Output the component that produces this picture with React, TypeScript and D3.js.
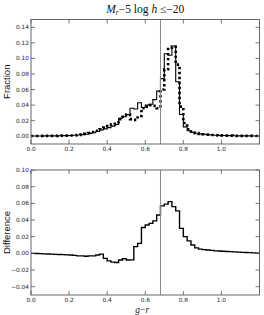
import React from 'react'
import * as d3 from 'd3'

// histogram bins are 0.02 wide from g-r = 0.0 to 1.2
const BIN_WIDTH = 0.02
const X_TICKS = [0.0, 0.2, 0.4, 0.6, 0.8, 1.0]
const TOP_Y_TICKS = [0.0, 0.02, 0.04, 0.06, 0.08, 0.1, 0.12, 0.14]
const BOTTOM_Y_TICKS = [-0.04, -0.02, 0.0, 0.02, 0.04, 0.06, 0.08, 0.1]
const CUT_COLOUR = 0.68

// solid histogram (top panel)
const modelFraction = [
  0.0003, 0.0003, 0.0003, 0.0004, 0.0004, 0.0005, 0.0005, 0.0006, 0.0007, 0.0008,
  0.001, 0.0012, 0.0015, 0.002, 0.0025, 0.0035, 0.0045, 0.006, 0.008, 0.0095,
  0.011, 0.013, 0.015, 0.023, 0.025, 0.028, 0.036, 0.035, 0.043, 0.037,
  0.04, 0.041, 0.047, 0.058, 0.074, 0.106, 0.104, 0.116, 0.07, 0.028,
  0.012, 0.007, 0.005, 0.0038, 0.003, 0.0025, 0.002, 0.0016, 0.0013, 0.0011,
  0.0009, 0.0008, 0.0007, 0.0006, 0.0005, 0.0005, 0.0004, 0.0004, 0.0003, 0.0003,
]

// dotted histogram (top panel)
const dataFraction = [
  0.0003, 0.0003, 0.0003, 0.0004, 0.0004, 0.0005, 0.0005, 0.0006, 0.0007, 0.0008,
  0.001, 0.0012, 0.0016, 0.0022, 0.003, 0.004, 0.0055, 0.007, 0.009, 0.011,
  0.013, 0.015, 0.018, 0.022, 0.025, 0.028, 0.022, 0.021, 0.026, 0.036,
  0.038, 0.04, 0.039, 0.036, 0.06, 0.086, 0.112, 0.115, 0.092, 0.038,
  0.017, 0.009, 0.006, 0.004, 0.003, 0.0025, 0.002, 0.0016, 0.0013, 0.0011,
  0.0009, 0.0008, 0.0007, 0.0006, 0.0005, 0.0005, 0.0004, 0.0004, 0.0003, 0.0003,
]

// bottom panel
const difference = [
  0.0, -0.0002, -0.0004, -0.0006, -0.0008, -0.001, -0.0012, -0.0014, -0.0016, -0.0018,
  -0.002, -0.0025, -0.003, -0.003, -0.0035, -0.003, -0.003, -0.002, -0.001, -0.006,
  -0.009, -0.0105, -0.011, -0.008, -0.0065, -0.008, -0.0078, 0.008, 0.012, 0.031,
  0.034, 0.036, 0.039, 0.046, 0.057, 0.059, 0.062, 0.056, 0.051, 0.03,
  0.02, 0.015, 0.01, 0.0065, 0.005, 0.0045, 0.004, 0.0035, 0.003, 0.0028,
  0.0025, 0.0022, 0.002, 0.0018, 0.0015, 0.0012, 0.001, 0.0008, 0.0005, 0.0002,
]

const WIDTH = 264
const HEIGHT = 315
const LEFT = 31
const RIGHT = 259.5
const TOP_PANEL = { top: 19.5, bottom: 144 }
const BOTTOM_PANEL = { top: 170, bottom: 295 }

const TICK_FONT = 'DejaVu Sans, sans-serif'
const LABEL_FONT = 'Liberation Sans, Arial, sans-serif'
const MATH_FONT = 'Liberation Serif, Times New Roman, serif'

const fmt = (digits: number) => (v: number) =>
  (v < 0 ? '\u2212' : '') + Math.abs(v).toFixed(digits)

function stepPoints(values: number[]): [number, number][] {
  const pts: [number, number][] = values.map((v, i) => [i * BIN_WIDTH, v])
  pts.push([values.length * BIN_WIDTH, values[values.length - 1]])
  return pts
}

function Panel({ yDomain, panel, yTicks, ylabel, children }) {
  const x = d3.scaleLinear().domain([0, 1.2]).range([LEFT, RIGHT])
  const y = d3.scaleLinear().domain(yDomain).range([panel.bottom, panel.top])
  const tick = 4
  const yf = fmt(2)
  const xf = fmt(1)
  return (
    <g>
      {children(x, y)}
      <line x1={x(CUT_COLOUR)} x2={x(CUT_COLOUR)} y1={panel.top} y2={panel.bottom}
        stroke="#888" strokeWidth={1} />
      <rect x={LEFT} y={panel.top} width={RIGHT - LEFT} height={panel.bottom - panel.top}
        fill="none" stroke="#555" strokeWidth={0.9} />
      {X_TICKS.map((t) => (
        <g key={'x' + t}>
          <line x1={x(t)} x2={x(t)} y1={panel.bottom} y2={panel.bottom - tick} stroke="#555" strokeWidth={0.8} />
          <line x1={x(t)} x2={x(t)} y1={panel.top} y2={panel.top + tick} stroke="#555" strokeWidth={0.8} />
          <text x={x(t)} y={panel.bottom + 6.8} textAnchor="middle" fontFamily={TICK_FONT}
            fontSize={5.8} fill="#222">{xf(t)}</text>
        </g>
      ))}
      {yTicks.map((t) => (
        <g key={'y' + t}>
          <line x1={LEFT} x2={LEFT + tick} y1={y(t)} y2={y(t)} stroke="#555" strokeWidth={0.8} />
          <line x1={RIGHT} x2={RIGHT - tick} y1={y(t)} y2={y(t)} stroke="#555" strokeWidth={0.8} />
          <text x={LEFT - 2} y={y(t) + 2} textAnchor="end" fontFamily={TICK_FONT}
            fontSize={5.8} fill="#222">{yf(t)}</text>
        </g>
      ))}
      <text transform={`translate(10,${(panel.top + panel.bottom) / 2}) rotate(-90)`}
        textAnchor="middle" fontFamily={LABEL_FONT} fontSize={9.5} fill="#111">{ylabel}</text>
    </g>
  )
}

export default function App() {
  const line = (x, y) => d3.line<[number, number]>()
    .x((d) => x(d[0]))
    .y((d) => y(d[1]))
    .curve(d3.curveStepAfter)

  return (
    <svg width={WIDTH} height={HEIGHT} style={{ position: 'absolute', left: 0, top: 0, background: '#fff' }}>
      <text x={(LEFT + RIGHT) / 2} y={13} textAnchor="middle" fontFamily={MATH_FONT} fontSize={11.5} fill="#111">
        <tspan fontStyle="italic">M</tspan>
        <tspan fontStyle="italic" fontSize={7.5} dy={2}>r</tspan>
        <tspan dy={-2}>{'\u22125 log '}</tspan>
        <tspan fontStyle="italic">h</tspan>
        <tspan>{' \u2264\u221220'}</tspan>
      </text>

      <Panel yDomain={[-0.01, 0.15]} panel={TOP_PANEL} yTicks={TOP_Y_TICKS} ylabel="Fraction">
        {(x, y) => (
          <g>
            <path d={line(x, y)(stepPoints(modelFraction))} fill="none" stroke="#000" strokeWidth={1.1} />
            <path d={line(x, y)(stepPoints(dataFraction))} fill="none" stroke="#000" strokeWidth={2.6}
              strokeDasharray="2.3,2.7" />
          </g>
        )}
      </Panel>

      <Panel yDomain={[-0.05, 0.1]} panel={BOTTOM_PANEL} yTicks={BOTTOM_Y_TICKS} ylabel="Difference">
        {(x, y) => (
          <path d={line(x, y)(stepPoints(difference))} fill="none" stroke="#000" strokeWidth={1.4} />
        )}
      </Panel>

      <text x={(LEFT + RIGHT) / 2 - 3} y={312.5} textAnchor="middle" fontFamily={MATH_FONT} fontSize={9.5} fill="#111">
        <tspan fontStyle="italic">g</tspan>
        <tspan>{'\u2212'}</tspan>
        <tspan fontStyle="italic">r</tspan>
      </text>
    </svg>
  )
}
